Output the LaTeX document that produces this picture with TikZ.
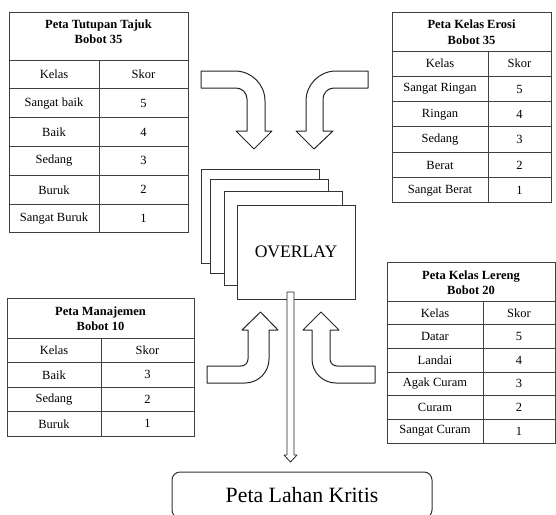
\documentclass[tikz,border=0pt]{standalone}
\usepackage{fontspec}
\setmainfont{Liberation Serif}
\usetikzlibrary{positioning, calc}
\tikzset{
  cell/.style={font=\fontsize{12.5}{15.5}\selectfont, inner sep=0pt},
  ttl/.style={font=\fontsize{12.5}{15.5}\selectfont\bfseries, align=center, inner sep=0pt},
  grid/.style={draw=black!75, line width=1pt},
  sheet/.style={draw=black!80, line width=1pt, fill=white, minimum width=118pt, minimum height=94pt, inner sep=0pt},
  blk/.style={draw=black!85, line width=1pt, fill=white, line join=round},
}

\begin{document}
\begin{tikzpicture}[x=1pt, y=-1pt]
  \useasboundingbox (0,0) rectangle (556,514);
  \clip (0,0) rectangle (556,514);
  % Peta Tutupan Tajuk
  \def\xa{9} \def\xb{99} \def\xc{188} \def\yt{12} \def\yh{60} \def\rh{28.83}
  \draw[grid] (\xa,\yt) rectangle (\xc,\yh+6*\rh);
  \foreach \r in {0,...,5} {\draw[grid] (\xa,\yh+\r*\rh) -- (\xc,\yh+\r*\rh);}
  \draw[grid] (\xb,\yh) -- (\xb,\yh+6*\rh);
  \node[ttl] (tutupan) at ({(\xa+\xc)/2},31.5) {Peta Tutupan Tajuk\\Bobot 35};
  \foreach \kls/\skr [count=\i from 0] in {Kelas/Skor, Sangat baik/5, Baik/4, Sedang/3, Buruk/2, Sangat Buruk/1} {
    \node[cell] (tutupan-k\i) at ({(\xa+\xb)/2},\yh+\i*\rh+\rh/2) {\kls};
    \node[cell] (tutupan-s\i) at ({(\xb+\xc)/2},\yh+\i*\rh+\rh/2) {\skr};
  }
  % Peta Kelas Erosi
  \def\xa{392} \def\xb{488} \def\xc{551} \def\yt{12} \def\yh{51} \def\rh{25.33}
  \draw[grid] (\xa,\yt) rectangle (\xc,\yh+6*\rh);
  \foreach \r in {0,...,5} {\draw[grid] (\xa,\yh+\r*\rh) -- (\xc,\yh+\r*\rh);}
  \draw[grid] (\xb,\yh) -- (\xb,\yh+6*\rh);
  \node[ttl] (erosi) at ({(\xa+\xc)/2},32) {Peta Kelas Erosi\\Bobot 35};
  \foreach \kls/\skr [count=\i from 0] in {Kelas/Skor, Sangat Ringan/5, Ringan/4, Sedang/3, Berat/2, Sangat Berat/1} {
    \node[cell] (erosi-k\i) at ({(\xa+\xb)/2},\yh+\i*\rh+\rh/2) {\kls};
    \node[cell] (erosi-s\i) at ({(\xb+\xc)/2},\yh+\i*\rh+\rh/2) {\skr};
  }
  % Peta Manajemen
  \def\xa{7} \def\xb{101} \def\xc{194} \def\yt{298} \def\yh{338} \def\rh{24.5}
  \draw[grid] (\xa,\yt) rectangle (\xc,\yh+4*\rh);
  \foreach \r in {0,...,3} {\draw[grid] (\xa,\yh+\r*\rh) -- (\xc,\yh+\r*\rh);}
  \draw[grid] (\xb,\yh) -- (\xb,\yh+4*\rh);
  \node[ttl] (manajemen) at ({(\xa+\xc)/2},318.5) {Peta Manajemen\\Bobot 10};
  \foreach \kls/\skr [count=\i from 0] in {Kelas/Skor, Baik/3, Sedang/2, Buruk/1} {
    \node[cell] (manajemen-k\i) at ({(\xa+\xb)/2},\yh+\i*\rh+\rh/2) {\kls};
    \node[cell] (manajemen-s\i) at ({(\xb+\xc)/2},\yh+\i*\rh+\rh/2) {\skr};
  }
  % Peta Kelas Lereng
  \def\xa{387} \def\xb{483} \def\xc{555} \def\yt{262} \def\yh{301} \def\rh{23.67}
  \draw[grid] (\xa,\yt) rectangle (\xc,\yh+6*\rh);
  \foreach \r in {0,...,5} {\draw[grid] (\xa,\yh+\r*\rh) -- (\xc,\yh+\r*\rh);}
  \draw[grid] (\xb,\yh) -- (\xb,\yh+6*\rh);
  \node[ttl] (lereng) at ({(\xa+\xc)/2},282.5) {Peta Kelas Lereng\\Bobot 20};
  \foreach \kls/\skr [count=\i from 0] in {Kelas/Skor, Datar/5, Landai/4, Agak Curam/3, Curam/2, Sangat Curam/1} {
    \node[cell] (lereng-k\i) at ({(\xa+\xb)/2},\yh+\i*\rh+\rh/2) {\kls};
    \node[cell] (lereng-s\i) at ({(\xb+\xc)/2},\yh+\i*\rh+\rh/2) {\skr};
  }
  % Overlay sheets
  \node[sheet] (sheet1) at (260,216) {};
  \node[sheet] (sheet2) at (269.5,226) {};
  \node[sheet] (sheet3) at (283,238.5) {};
  \node[sheet, font=\fontsize{17.6}{20}\selectfont] (ovl) at (296,252) {OVERLAY};
  % Curved arrows in
  \draw[blk] (201,71) -- (235,71) .. controls (251.6,71) and (265,84.4) .. (265,101) -- (265,131) -- (272,131) -- (254,149)
    -- (236,131) -- (247,131) -- (247,99) .. controls (247,92.9) and (242.1,88) .. (236,88) -- (201,88) -- cycle;
  \draw[blk] (368,71) -- (336,71) .. controls (319.4,71) and (306,84.4) .. (306,101) -- (306,131) -- (296,131) -- (314,149)
    -- (333,131) -- (323,131) -- (323,99) .. controls (323,92.9) and (327.9,88) .. (334,88) -- (368,88) -- cycle;
  \draw[blk] (207,366) -- (241,366) .. controls (244.9,366) and (248,362.9) .. (248,359) -- (248,330) -- (242,330) -- (260.5,312)
    -- (278,330) -- (269,330) -- (269,359) .. controls (269,372.3) and (258.3,383) .. (245,383) -- (207,383) -- cycle;
  \draw[blk] (375,366) -- (337,366) .. controls (333.1,366) and (330,362.9) .. (330,359) -- (330,330) -- (339,330) -- (321,312)
    -- (303,330) -- (312,330) -- (312,359) .. controls (312,372.3) and (322.7,383) .. (336,383) -- (375,383) -- cycle;
  % Result
  \node[draw=black!80, line width=1pt, rounded corners=8pt, minimum width=260pt, minimum height=46pt,
        font=\fontsize{21.8}{24}\selectfont] (lahan) at (302,495) {Peta Lahan Kritis};
  \coordinate (flow) at (290.5,292);
  \draw[blk, line width=0.8pt] (flow) ++(-3.5,0) -- ++(0,163) -- ++(-3,0) -- ++(6.5,7) -- ++(6.5,-7) -- ++(-3,0) -- ++(0,-163) -- cycle;
\end{tikzpicture}
\end{document}
